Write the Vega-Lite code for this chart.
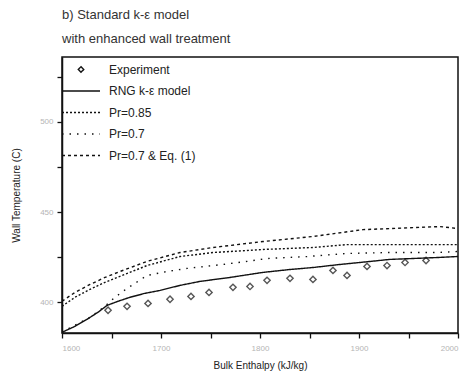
{
  "$schema": "https://vega.github.io/schema/vega-lite/v6.json",
  "width": 396,
  "height": 276,
  "autosize": {"type": "none"},
  "padding": {"left": 62, "top": 57, "right": 9, "bottom": 45},
  "background": "white",
  "title": {
    "text": ["b) Standard k-ε model", "with enhanced wall treatment"],
    "anchor": "start",
    "frame": "group",
    "font": "Liberation Sans",
    "fontSize": 13,
    "fontWeight": "normal",
    "color": "#333",
    "lineHeight": 24,
    "offset": 11
  },
  "datasets": {
    "exp": [
      {"h": 1646.5, "t": 395.6}, {"h": 1665.7, "t": 397.8}, {"h": 1686.9, "t": 399.4},
      {"h": 1709.1, "t": 401.7}, {"h": 1730.3, "t": 403.3}, {"h": 1748.5, "t": 405.5},
      {"h": 1772.7, "t": 408.3}, {"h": 1789.9, "t": 408.8}, {"h": 1807.1, "t": 412.2},
      {"h": 1830.3, "t": 413.3}, {"h": 1853.5, "t": 412.7}, {"h": 1873.7, "t": 417.7},
      {"h": 1887.9, "t": 414.9}, {"h": 1908.1, "t": 419.9}, {"h": 1928.3, "t": 420.4},
      {"h": 1946.5, "t": 422.1}, {"h": 1967.7, "t": 423.2}
    ],
    "curves": [
      {"s": "RNG k-ε model", "h": 1600, "t": 383.4}, {"s": "RNG k-ε model", "h": 1613.1, "t": 386.7},
      {"s": "RNG k-ε model", "h": 1625.3, "t": 390.6}, {"s": "RNG k-ε model", "h": 1636.4, "t": 394.5},
      {"s": "RNG k-ε model", "h": 1645.5, "t": 398.3}, {"s": "RNG k-ε model", "h": 1656.6, "t": 400.6},
      {"s": "RNG k-ε model", "h": 1668.7, "t": 402.8}, {"s": "RNG k-ε model", "h": 1683.8, "t": 405.0},
      {"s": "RNG k-ε model", "h": 1699.0, "t": 406.6}, {"s": "RNG k-ε model", "h": 1719.2, "t": 409.4},
      {"s": "RNG k-ε model", "h": 1739.4, "t": 411.6}, {"s": "RNG k-ε model", "h": 1769.7, "t": 413.8},
      {"s": "RNG k-ε model", "h": 1803.0, "t": 416.6}, {"s": "RNG k-ε model", "h": 1830.3, "t": 418.2},
      {"s": "RNG k-ε model", "h": 1853.5, "t": 419.3}, {"s": "RNG k-ε model", "h": 1880.8, "t": 421.0},
      {"s": "RNG k-ε model", "h": 1901.0, "t": 422.1}, {"s": "RNG k-ε model", "h": 1931.3, "t": 423.8},
      {"s": "RNG k-ε model", "h": 1954.5, "t": 424.3}, {"s": "RNG k-ε model", "h": 1981.8, "t": 424.9},
      {"s": "RNG k-ε model", "h": 2000, "t": 425.4},
      {"s": "Pr=0.85", "h": 1600, "t": 397.8}, {"s": "Pr=0.85", "h": 1613.1, "t": 402.8},
      {"s": "Pr=0.85", "h": 1628.3, "t": 407.2}, {"s": "Pr=0.85", "h": 1643.4, "t": 411.1},
      {"s": "Pr=0.85", "h": 1658.6, "t": 414.4}, {"s": "Pr=0.85", "h": 1685.9, "t": 420.4},
      {"s": "Pr=0.85", "h": 1719.2, "t": 425.4}, {"s": "Pr=0.85", "h": 1752.5, "t": 427.6},
      {"s": "Pr=0.85", "h": 1803.0, "t": 429.3}, {"s": "Pr=0.85", "h": 1853.5, "t": 430.4},
      {"s": "Pr=0.85", "h": 1887.9, "t": 432.0}, {"s": "Pr=0.85", "h": 1954.5, "t": 432.0},
      {"s": "Pr=0.85", "h": 2000, "t": 432.0},
      {"s": "Pr=0.7", "h": 1600, "t": 383.4}, {"s": "Pr=0.7", "h": 1613.1, "t": 387.3},
      {"s": "Pr=0.7", "h": 1628.3, "t": 391.7}, {"s": "Pr=0.7", "h": 1643.4, "t": 397.8},
      {"s": "Pr=0.7", "h": 1653.5, "t": 402.8}, {"s": "Pr=0.7", "h": 1665.7, "t": 407.7},
      {"s": "Pr=0.7", "h": 1685.9, "t": 414.9}, {"s": "Pr=0.7", "h": 1706.1, "t": 417.1},
      {"s": "Pr=0.7", "h": 1726.3, "t": 418.8}, {"s": "Pr=0.7", "h": 1762.6, "t": 421.0},
      {"s": "Pr=0.7", "h": 1786.9, "t": 422.7}, {"s": "Pr=0.7", "h": 1807.1, "t": 424.3},
      {"s": "Pr=0.7", "h": 1847.5, "t": 425.4}, {"s": "Pr=0.7", "h": 1887.9, "t": 427.1},
      {"s": "Pr=0.7", "h": 1928.3, "t": 427.6}, {"s": "Pr=0.7", "h": 1978.8, "t": 427.6},
      {"s": "Pr=0.7", "h": 2000, "t": 428.2},
      {"s": "Pr=0.7 & Eq. (1)", "h": 1600, "t": 400.6}, {"s": "Pr=0.7 & Eq. (1)", "h": 1613.1, "t": 405.5},
      {"s": "Pr=0.7 & Eq. (1)", "h": 1628.3, "t": 409.9}, {"s": "Pr=0.7 & Eq. (1)", "h": 1643.4, "t": 413.8},
      {"s": "Pr=0.7 & Eq. (1)", "h": 1658.6, "t": 417.1}, {"s": "Pr=0.7 & Eq. (1)", "h": 1685.9, "t": 422.7},
      {"s": "Pr=0.7 & Eq. (1)", "h": 1719.2, "t": 427.6}, {"s": "Pr=0.7 & Eq. (1)", "h": 1752.5, "t": 430.4},
      {"s": "Pr=0.7 & Eq. (1)", "h": 1803.0, "t": 433.7}, {"s": "Pr=0.7 & Eq. (1)", "h": 1853.5, "t": 436.5},
      {"s": "Pr=0.7 & Eq. (1)", "h": 1904.0, "t": 440.3}, {"s": "Pr=0.7 & Eq. (1)", "h": 1954.5, "t": 441.4},
      {"s": "Pr=0.7 & Eq. (1)", "h": 1981.8, "t": 442.0}, {"s": "Pr=0.7 & Eq. (1)", "h": 2000, "t": 440.9}
    ]
  },
  "encoding": {
    "x": {
      "field": "h", "type": "quantitative",
      "scale": {"domain": [1600, 2000], "nice": false, "zero": false},
      "axis": {
        "title": "Bulk Enthalpy (kJ/kg)",
        "values": [1600, 1650, 1700, 1750, 1800, 1850, 1900, 1950, 2000],
        "labelExpr": "datum.value % 100 === 0 ? datum.label : ''",
        "format": "d"
      }
    },
    "y": {
      "field": "t", "type": "quantitative",
      "scale": {"domain": [383, 536], "nice": false, "zero": false},
      "axis": {
        "title": "Wall Temperature (C)",
        "values": [400, 425, 450, 475, 500, 525],
        "labelExpr": "datum.value % 50 === 0 ? datum.label : ''",
        "format": "d"
      }
    }
  },
  "layer": [
    {
      "data": {"name": "curves"},
      "mark": {"type": "line", "color": "#111", "strokeWidth": 1.4, "clip": true},
      "encoding": {
        "detail": {"field": "s"},
        "strokeDash": {
          "field": "s", "type": "nominal",
          "scale": {
            "domain": ["Experiment", "RNG k-ε model", "Pr=0.85", "Pr=0.7", "Pr=0.7 & Eq. (1)"],
            "range": [[1, 0], [1, 0], [2, 2], [1.5, 6], [3, 3]]
          },
          "legend": {
            "title": null,
            "orient": "none",
            "legendX": 0,
            "legendY": 2,
            "padding": 0,
            "symbolType": "M-2,0H2",
            "symbolSize": 361,
            "symbolStrokeWidth": 1.4,
            "symbolStrokeColor": "#111",
            "labelFont": "Liberation Sans",
            "labelFontSize": 12,
            "labelColor": "#222",
            "labelOffset": 26,
            "rowPadding": 4.5,
            "encode": {
              "symbols": {
                "update": {
                  "shape": {"signal": "datum.value === 'Experiment' ? 'diamond' : 'M-2,0H2'"},
                  "size": {"signal": "datum.value === 'Experiment' ? 30 : 361"},
                  "x": {"value": 19},
                  "fill": {"value": "transparent"},
                  "stroke": {"value": "#111"}
                }
              }
            }
          }
        }
      }
    },
    {
      "data": {"name": "exp"},
      "mark": {"type": "point", "shape": "diamond", "filled": false, "color": "#111", "size": 40, "strokeWidth": 1.4}
    }
  ],
  "config": {
    "font": "Liberation Sans",
    "view": {"stroke": "#111", "strokeWidth": 1.5},
    "axis": {
      "grid": false,
      "domainColor": "#111",
      "domainWidth": 1.5,
      "tickColor": "#111",
      "tickSize": 5,
      "tickWidth": 1.3,
      "labelColor": "#b5b5b5",
      "labelFontSize": 8,
      "labelFont": "Liberation Sans",
      "titleFont": "Liberation Sans",
      "titleFontSize": 10,
      "titleFontWeight": "normal",
      "titleColor": "#222"
    },
    "axisX": {"titlePadding": 8, "labelPadding": 6},
    "axisY": {"titlePadding": 18, "labelPadding": 4}
  }
}
